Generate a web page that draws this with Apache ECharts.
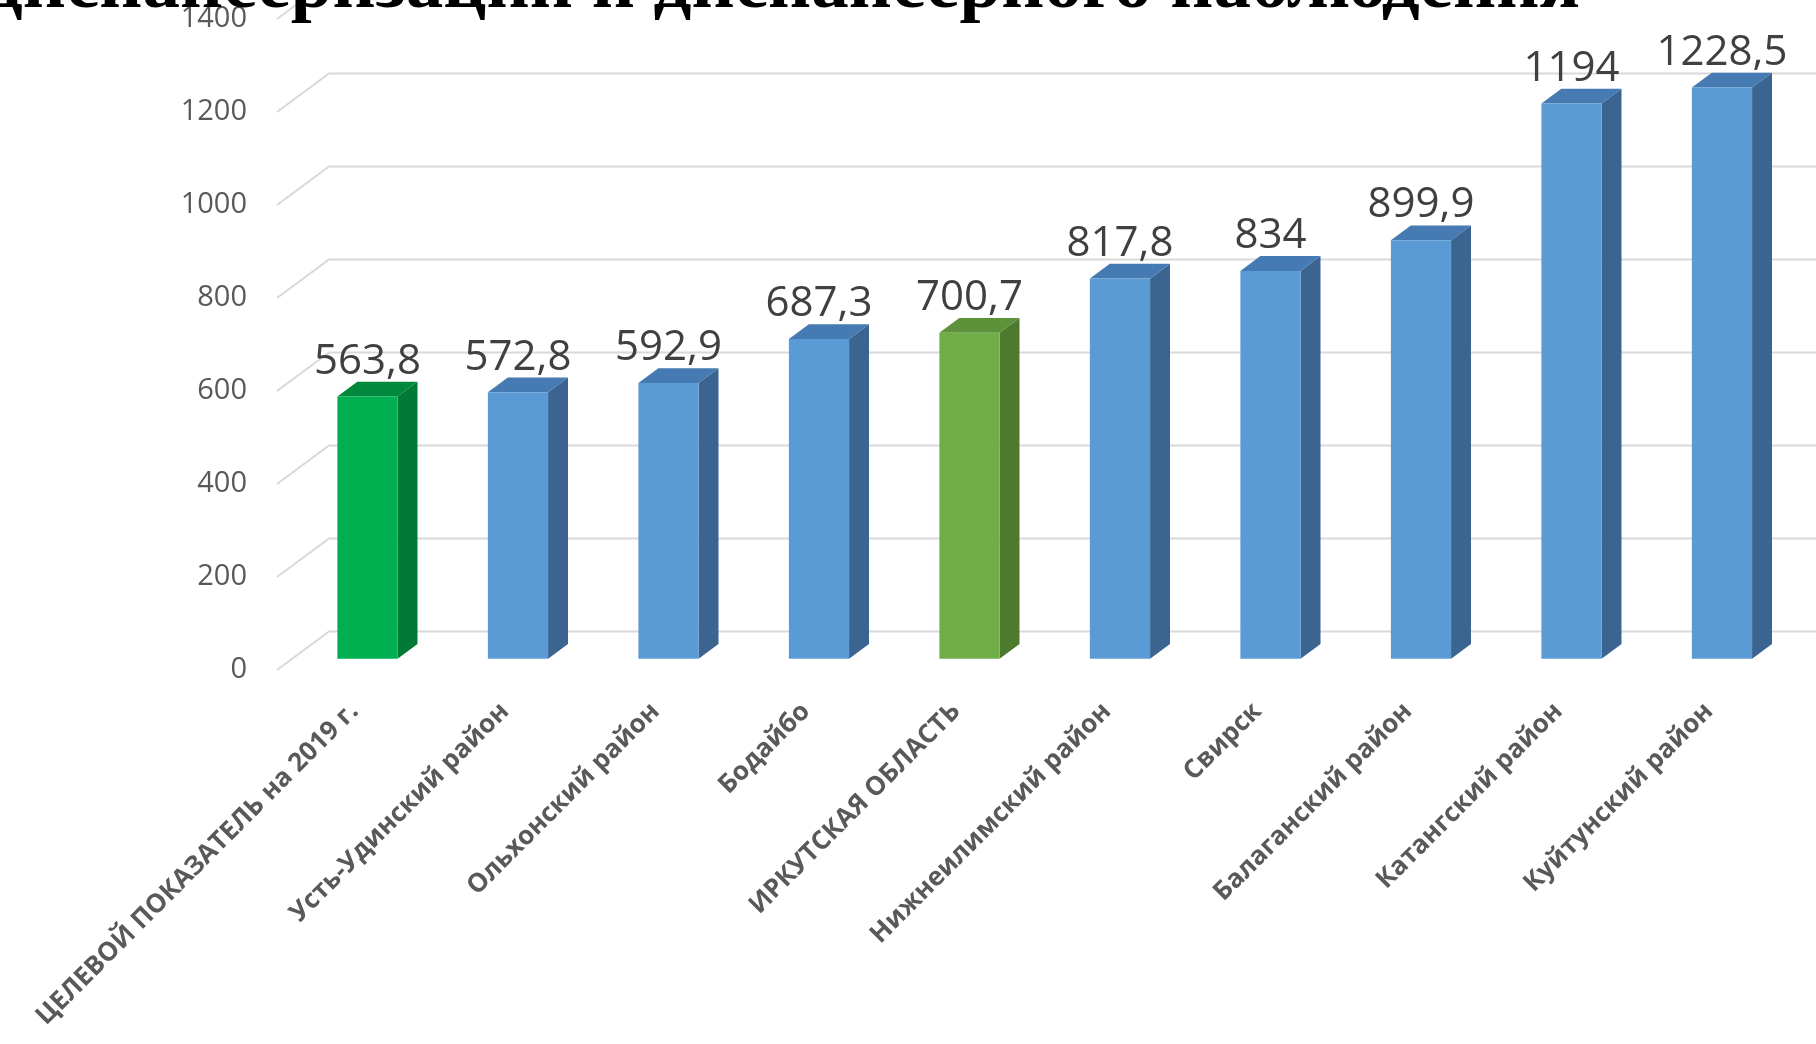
<!DOCTYPE html>
<html>
<head>
<meta charset="utf-8">
<script src="https://cdn.jsdelivr.net/npm/echarts@6/dist/echarts.min.js"></script>
<style>
html,body{margin:0;padding:0;background:#fff;}
#chart{width:1816px;height:1044px;}
</style>
</head>
<body>
<div id="chart"></div>
<script>
// ---- data ----
const titleText = 'диспансеризации и диспансерного наблюдения';
const categories = [
  'ЦЕЛЕВОЙ ПОКАЗАТЕЛЬ на 2019 г.',
  'Усть-Удинский район',
  'Ольхонский район',
  'Бодайбо',
  'ИРКУТСКАЯ ОБЛАСТЬ',
  'Нижнеилимский район',
  'Свирск',
  'Балаганский район',
  'Катангский район',
  'Куйтунский район'
];
const values = [563.8, 572.8, 592.9, 687.3, 700.7, 817.8, 834, 899.9, 1194, 1228.5];
const yTicks = [0, 200, 400, 600, 800, 1000, 1200, 1400];

// ---- styling (kept separate from data) ----
const palettes = {
  blue:  { front: '#5B9BD5', side: '#3B6590', top: '#467AB3' },
  green: { front: '#00B050', side: '#007A35', top: '#00893C' },
  olive: { front: '#70AD47', side: '#4D7A2E', top: '#5D913A' }
};
const paletteByIndex = { 0: 'green', 4: 'olive' };

const DEPTH_X = 52, DEPTH_Y = 38.6;
const FRONT = 0.293, BACK = 0.676;
const BAR_RATIO = 0.4;

function fmt(v) { return String(v).replace('.', ','); }

const chart = echarts.init(document.getElementById('chart'), null, { renderer: 'canvas' });

function renderGridLine(params, api) {
  const v = api.value(1);
  const p = api.coord([0, v]);
  const band = api.size([1, 0])[0];
  const left = p[0] - band / 2;
  return {
    type: 'polyline',
    shape: { points: [[left, p[1]], [left + DEPTH_X, p[1] - DEPTH_Y], [1816, p[1] - DEPTH_Y]] },
    style: { stroke: '#D9D9D9', lineWidth: 2, fill: null }
  };
}

function renderBar(params, api) {
  const i = api.value(0), v = api.value(1);
  const base = api.coord([i, 0]);
  const top = api.coord([i, v]);
  const band = api.size([1, 0])[0];
  const bw = band * BAR_RATIO;
  const fdx = DEPTH_X * FRONT, fdy = DEPTH_Y * FRONT;
  const sdx = DEPTH_X * (BACK - FRONT), sdy = DEPTH_Y * (BACK - FRONT);
  const x0 = base[0] - bw / 2 + fdx, x1 = x0 + bw;
  const yb = base[1] - fdy, yt = top[1] - fdy;
  const pal = palettes[paletteByIndex[i] || 'blue'];
  return {
    type: 'group',
    children: [
      { type: 'polygon', shape: { points: [[x1, yb], [x1 + sdx, yb - sdy], [x1 + sdx, yt - sdy], [x1, yt]] }, style: { fill: pal.side } },
      { type: 'polygon', shape: { points: [[x0, yt], [x1, yt], [x1 + sdx, yt - sdy], [x0 + sdx, yt - sdy]] }, style: { fill: pal.top } },
      { type: 'rect', shape: { x: x0, y: yt, width: bw, height: yb - yt }, style: { fill: pal.front } },
      { type: 'text', style: { x: (x0 + x1) / 2, y: yt - sdy + 1, text: fmt(v), fill: '#404040',
          font: '42px "Open Sans"', align: 'center', verticalAlign: 'bottom' } }
    ]
  };
}

chart.setOption({
  animation: false,
  backgroundColor: '#ffffff',
  grid: { left: 277, right: 34, top: 19, bottom: 374, containLabel: false, outerBoundsMode: 'none' },
  xAxis: {
    type: 'category',
    data: categories,
    axisLine: { show: false },
    axisTick: { show: false },
    axisLabel: {
      interval: 0, rotate: 45, margin: 21, verticalAlign: 'top', padding: [0, 10, 0, 0],
      color: '#595959', fontSize: 26, fontWeight: 'bold', fontFamily: 'Open Sans'
    }
  },
  yAxis: {
    type: 'value', min: 0, max: 1400, interval: 200,
    splitLine: { show: false }, axisLine: { show: false }, axisTick: { show: false },
    axisLabel: { color: '#595959', fontSize: 29, fontFamily: 'Open Sans', margin: 30, padding: [12, 0, 0, 0],
      formatter: function (v) { return String(v); } }
  },
  graphic: [{
    type: 'text', z: 100,
    style: { x: 1580, y: -12, text: titleText, font: 'bold 75px "Liberation Serif"', fill: '#000',
      align: 'right', verticalAlign: 'middle' }
  }],
  series: [
    { type: 'custom', z: 1, silent: true, renderItem: renderGridLine,
      data: yTicks.map(v => [0, v]) },
    { type: 'custom', z: 2, silent: true, renderItem: renderBar,
      data: values.map((v, i) => [i, v]) }
  ]
});
</script>
</body>
</html>
